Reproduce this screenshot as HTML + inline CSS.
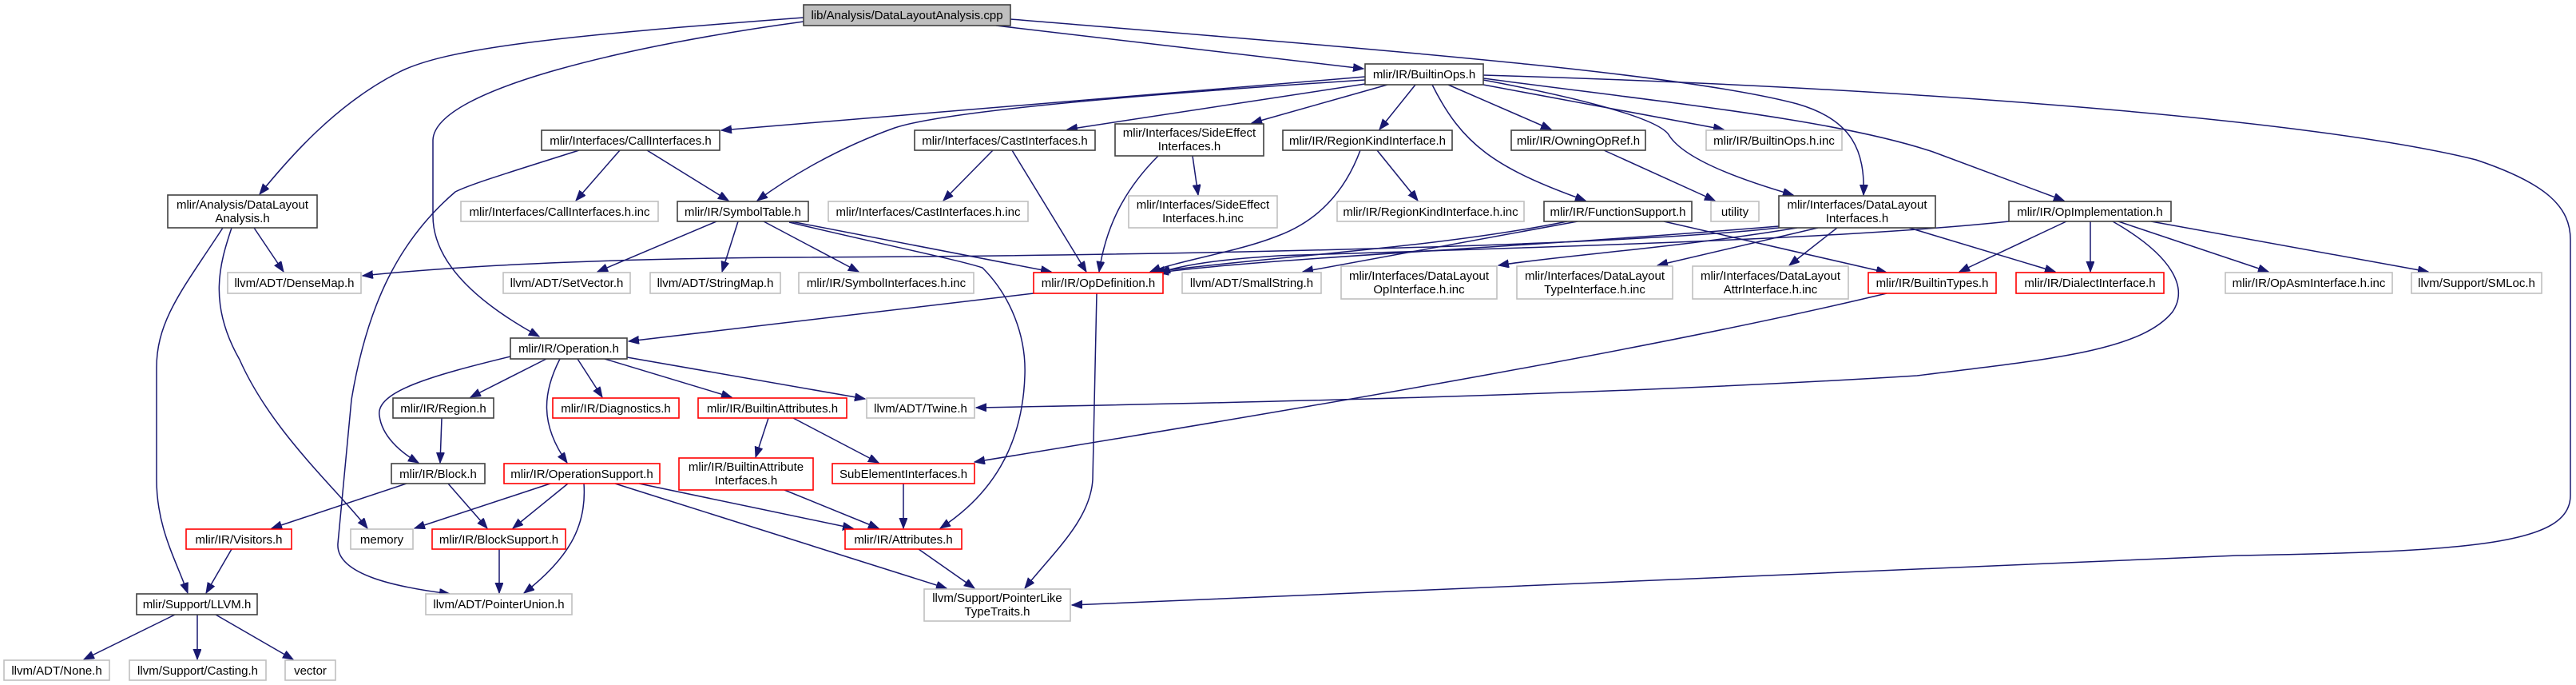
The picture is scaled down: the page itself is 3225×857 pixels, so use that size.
<!DOCTYPE html>
<html><head><meta charset="utf-8">
<style>
html,body{margin:0;padding:0;background:#fff;}
svg{display:block;}
text{font-family:"Liberation Sans",sans-serif;font-size:15px;fill:#000;text-anchor:middle;}
.e{fill:none;stroke:#191970;stroke-width:1.5;}
.b{fill:#fff;stroke:#404040;stroke-width:1.6;}
.g{fill:#fff;stroke:#bfbfbf;stroke-width:1.6;}
.r{fill:#fff;stroke:#ff0000;stroke-width:1.6;}
</style></head>
<body>
<svg width="3225" height="857" viewBox="0 0 3225 857" xmlns="http://www.w3.org/2000/svg">
<defs>
<marker id="a" markerUnits="userSpaceOnUse" markerWidth="14" markerHeight="12" refX="13" refY="5" orient="auto">
<path d="M0,0 L13,5 L0,10 Z" fill="#191970" stroke="#191970"/>
</marker>
</defs>
<g marker-end="url(#a)">
<path class="e" d="M1006,22 C700,45 560,60 500,90 C420,130 360,200 325,243"/>
<path class="e" d="M1006,27 C800,55 545,110 542,175 L542,270 C542,330 600,380 675,421"/>
<path class="e" d="M1247,32 L1707,86"/>
<path class="e" d="M1265,24 C1700,60 2100,90 2250,130 C2320,150 2335,190 2333,244"/>
<path class="e" d="M1709,96 L903,163"/>
<path class="e" d="M1709,100 C1400,120 1180,140 1120,160 C1050,185 990,220 948,251"/>
<path class="e" d="M1709,105 L1336,162"/>
<path class="e" d="M1737,106 L1567,154"/>
<path class="e" d="M1772,106 L1727,162"/>
<path class="e" d="M1793,106 C1830,180 1870,210 1985,251"/>
<path class="e" d="M1813,106 L1942,162"/>
<path class="e" d="M1857,106 L2158,162"/>
<path class="e" d="M1857,100 C1990,125 2080,150 2090,170 C2110,200 2180,225 2245,244"/>
<path class="e" d="M1857,98 C2100,130 2300,150 2420,190 L2584,251"/>
<path class="e" d="M1857,94 C2400,110 2900,150 3100,200 C3190,230 3218,260 3218,300 L3218,620 C3218,680 3100,690 2800,695 L1342,757"/>
<path class="e" d="M776,188 L721,251"/>
<path class="e" d="M810,188 L912,251"/>
<path class="e" d="M725,188 C640,215 590,230 570,240 C500,300 460,380 440,500 L423,680 C420,720 500,735 563,743"/>
<path class="e" d="M318,285 L355,340"/>
<path class="e" d="M290,285 C275,330 260,380 300,450 C340,540 420,610 460,661"/>
<path class="e" d="M279,285 C230,360 196,400 196,460 L196,600 C196,660 220,700 235,742"/>
<path class="e" d="M897,277 L748,340"/>
<path class="e" d="M924,277 L904,340"/>
<path class="e" d="M956,277 L1075,340"/>
<path class="e" d="M990,277 L1316,340"/>
<path class="e" d="M988,278 C1100,305 1200,325 1230,335 C1265,370 1285,420 1283,470 C1280,560 1240,620 1177,661"/>
<path class="e" d="M2227,285 C2000,310 1400,320 1000,322 C800,323 600,330 454,345"/>
<path class="e" d="M1450,195 C1410,235 1385,280 1376,340"/>
<path class="e" d="M1243,188 L1181,251"/>
<path class="e" d="M1267,188 L1360,340"/>
<path class="e" d="M1493,195 L1500,244"/>
<path class="e" d="M1724,188 L1775,251"/>
<path class="e" d="M1703,188 C1680,250 1640,280 1600,295 C1550,315 1480,325 1440,340"/>
<path class="e" d="M2008,188 L2147,251"/>
<path class="e" d="M1962,277 C1800,310 1600,320 1445,340"/>
<path class="e" d="M1975,277 L1631,340"/>
<path class="e" d="M2083,277 L2362,341"/>
<path class="e" d="M2227,283 C1900,310 1600,322 1450,341"/>
<path class="e" d="M2250,285 C2100,310 1950,320 1876,332"/>
<path class="e" d="M2276,285 L2075,332"/>
<path class="e" d="M2300,285 L2240,332"/>
<path class="e" d="M2390,285 L2573,340"/>
<path class="e" d="M2515,277 C2300,300 1900,310 1600,320 C1520,325 1480,332 1452,341"/>
<path class="e" d="M2587,277 L2453,340"/>
<path class="e" d="M2617,277 L2617,340"/>
<path class="e" d="M2645,277 C2720,320 2740,360 2720,390 C2680,440 2560,450 2400,470 C2000,495 1500,505 1222,510"/>
<path class="e" d="M2652,277 L2840,340"/>
<path class="e" d="M2693,277 L3040,340"/>
<path class="e" d="M2362,367 C2100,430 1700,500 1220,578"/>
<path class="e" d="M1294,367 L787,427"/>
<path class="e" d="M1373,367 L1368,600 C1365,650 1320,690 1283,736"/>
<path class="e" d="M684,449 L589,497"/>
<path class="e" d="M639,446 C540,470 470,490 475,520 C478,545 500,565 524,579"/>
<path class="e" d="M723,449 L754,497"/>
<path class="e" d="M701,449 C680,490 675,530 710,579"/>
<path class="e" d="M757,449 L916,497"/>
<path class="e" d="M785,447 L1083,499"/>
<path class="e" d="M553,523 L551,579"/>
<path class="e" d="M509,605 L340,661"/>
<path class="e" d="M561,605 L610,661"/>
<path class="e" d="M689,605 L519,661"/>
<path class="e" d="M711,605 L642,661"/>
<path class="e" d="M731,605 C735,660 710,700 656,742"/>
<path class="e" d="M800,605 L1068,661"/>
<path class="e" d="M770,605 L1185,736"/>
<path class="e" d="M962,523 L946,572"/>
<path class="e" d="M993,523 L1100,579"/>
<path class="e" d="M982,613 L1100,661"/>
<path class="e" d="M1131,605 L1131,661"/>
<path class="e" d="M1150,687 L1220,736"/>
<path class="e" d="M625,687 L625,742"/>
<path class="e" d="M290,687 L258,742"/>
<path class="e" d="M219,769 L105,825"/>
<path class="e" d="M247,769 L247,825"/>
<path class="e" d="M270,769 L367,825"/>
</g>

<rect x="1006" y="6" width="259" height="26" fill="#bfbfbf" stroke="#404040" stroke-width="1.6"/><text x="1135.5" y="24">lib/Analysis/DataLayoutAnalysis.cpp</text>
<rect class="b" x="1709" y="80" width="148" height="26"/><text x="1783" y="98">mlir/IR/BuiltinOps.h</text>
<rect class="b" x="678" y="163" width="223" height="25"/><text x="789.5" y="181">mlir/Interfaces/CallInterfaces.h</text>
<rect class="b" x="1145" y="163" width="226" height="25"/><text x="1258" y="181">mlir/Interfaces/CastInterfaces.h</text>
<rect class="b" x="1396" y="155" width="186" height="40"/><text x="1489" y="171">mlir/Interfaces/SideEffect</text><text x="1489" y="188">Interfaces.h</text>
<rect class="b" x="1606" y="163" width="212" height="25"/><text x="1712" y="181">mlir/IR/RegionKindInterface.h</text>
<rect class="b" x="1892" y="163" width="168" height="25"/><text x="1976" y="181">mlir/IR/OwningOpRef.h</text>
<rect class="g" x="2136" y="163" width="170" height="25"/><text x="2221" y="181">mlir/IR/BuiltinOps.h.inc</text>
<rect class="b" x="210" y="244" width="187" height="41"/><text x="303.5" y="261">mlir/Analysis/DataLayout</text><text x="303.5" y="278">Analysis.h</text>
<rect class="g" x="577" y="252" width="247" height="25"/><text x="700.5" y="270">mlir/Interfaces/CallInterfaces.h.inc</text>
<rect class="b" x="848" y="252" width="164" height="25"/><text x="930" y="270">mlir/IR/SymbolTable.h</text>
<rect class="g" x="1037" y="252" width="250" height="25"/><text x="1162" y="270">mlir/Interfaces/CastInterfaces.h.inc</text>
<rect class="g" x="1413" y="245" width="186" height="40"/><text x="1506" y="261">mlir/Interfaces/SideEffect</text><text x="1506" y="278">Interfaces.h.inc</text>
<rect class="g" x="1674" y="252" width="234" height="25"/><text x="1791" y="270">mlir/IR/RegionKindInterface.h.inc</text>
<rect class="b" x="1933" y="252" width="185" height="25"/><text x="2025.5" y="270">mlir/IR/FunctionSupport.h</text>
<rect class="g" x="2142" y="252" width="60" height="25"/><text x="2172" y="270">utility</text>
<rect class="b" x="2227" y="245" width="196" height="40"/><text x="2325" y="261">mlir/Interfaces/DataLayout</text><text x="2325" y="278">Interfaces.h</text>
<rect class="b" x="2515" y="252" width="203" height="25"/><text x="2616.5" y="270">mlir/IR/OpImplementation.h</text>
<rect class="g" x="285" y="341" width="167" height="26"/><text x="368.5" y="359">llvm/ADT/DenseMap.h</text>
<rect class="g" x="630" y="341" width="159" height="26"/><text x="709.5" y="359">llvm/ADT/SetVector.h</text>
<rect class="g" x="814" y="341" width="163" height="26"/><text x="895.5" y="359">llvm/ADT/StringMap.h</text>
<rect class="g" x="1000" y="341" width="219" height="26"/><text x="1109.5" y="359">mlir/IR/SymbolInterfaces.h.inc</text>
<rect class="r" x="1294" y="341" width="162" height="26"/><text x="1375" y="359">mlir/IR/OpDefinition.h</text>
<rect class="g" x="1480" y="341" width="174" height="26"/><text x="1567" y="359">llvm/ADT/SmallString.h</text>
<rect class="g" x="1679" y="333" width="195" height="41"/><text x="1776.5" y="350">mlir/Interfaces/DataLayout</text><text x="1776.5" y="367">OpInterface.h.inc</text>
<rect class="g" x="1899" y="333" width="195" height="41"/><text x="1996.5" y="350">mlir/Interfaces/DataLayout</text><text x="1996.5" y="367">TypeInterface.h.inc</text>
<rect class="g" x="2119" y="333" width="195" height="41"/><text x="2216.5" y="350">mlir/Interfaces/DataLayout</text><text x="2216.5" y="367">AttrInterface.h.inc</text>
<rect class="r" x="2339" y="341" width="160" height="26"/><text x="2419" y="359">mlir/IR/BuiltinTypes.h</text>
<rect class="r" x="2524" y="341" width="185" height="26"/><text x="2616.5" y="359">mlir/IR/DialectInterface.h</text>
<rect class="g" x="2786" y="341" width="209" height="26"/><text x="2890.5" y="359">mlir/IR/OpAsmInterface.h.inc</text>
<rect class="g" x="3019" y="341" width="163" height="26"/><text x="3100.5" y="359">llvm/Support/SMLoc.h</text>
<rect class="b" x="639" y="423" width="146" height="26"/><text x="712" y="441">mlir/IR/Operation.h</text>
<rect class="b" x="492" y="498" width="126" height="25"/><text x="555" y="516">mlir/IR/Region.h</text>
<rect class="r" x="692" y="498" width="158" height="25"/><text x="771" y="516">mlir/IR/Diagnostics.h</text>
<rect class="r" x="874" y="498" width="186" height="25"/><text x="967" y="516">mlir/IR/BuiltinAttributes.h</text>
<rect class="g" x="1085" y="498" width="135" height="25"/><text x="1152.5" y="516">llvm/ADT/Twine.h</text>
<rect class="b" x="490" y="580" width="117" height="25"/><text x="548.5" y="598">mlir/IR/Block.h</text>
<rect class="r" x="631" y="580" width="195" height="25"/><text x="728.5" y="598">mlir/IR/OperationSupport.h</text>
<rect class="r" x="850" y="573" width="168" height="40"/><text x="934" y="589">mlir/IR/BuiltinAttribute</text><text x="934" y="606">Interfaces.h</text>
<rect class="r" x="1042" y="580" width="178" height="25"/><text x="1131" y="598">SubElementInterfaces.h</text>
<rect class="r" x="233" y="662" width="132" height="25"/><text x="299" y="680">mlir/IR/Visitors.h</text>
<rect class="g" x="439" y="662" width="78" height="25"/><text x="478" y="680">memory</text>
<rect class="r" x="541" y="662" width="167" height="25"/><text x="624.5" y="680">mlir/IR/BlockSupport.h</text>
<rect class="r" x="1058" y="662" width="146" height="25"/><text x="1131" y="680">mlir/IR/Attributes.h</text>
<rect class="b" x="171" y="743" width="151" height="26"/><text x="246.5" y="761">mlir/Support/LLVM.h</text>
<rect class="g" x="533" y="743" width="183" height="26"/><text x="624.5" y="761">llvm/ADT/PointerUnion.h</text>
<rect class="g" x="1157" y="737" width="183" height="40"/><text x="1248.5" y="753">llvm/Support/PointerLike</text><text x="1248.5" y="770">TypeTraits.h</text>
<rect class="g" x="5" y="826" width="132" height="25"/><text x="71" y="844">llvm/ADT/None.h</text>
<rect class="g" x="162" y="826" width="171" height="25"/><text x="247.5" y="844">llvm/Support/Casting.h</text>
<rect class="g" x="357" y="826" width="63" height="25"/><text x="388.5" y="844">vector</text>
</svg>
</body></html>
